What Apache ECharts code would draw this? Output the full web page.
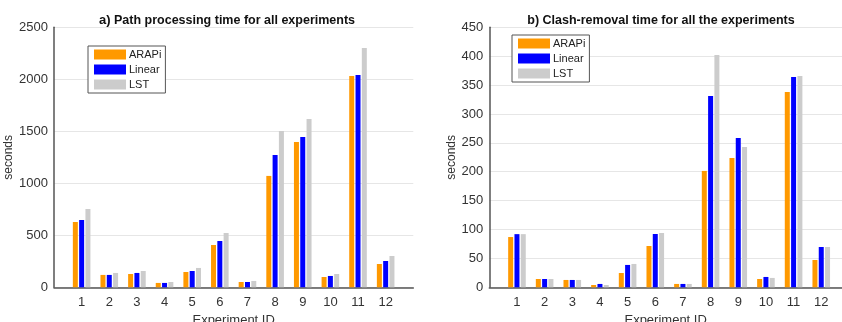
<!DOCTYPE html>
<html>
<head>
<meta charset="utf-8">
<script src="https://cdn.jsdelivr.net/npm/echarts@6/dist/echarts.min.js"></script>
<style>
  html, body { margin: 0; padding: 0; background: #fff; }
  #chart { width: 842px; height: 322px; }
</style>
</head>
<body>
<div id="chart"></div>
<script>
// Experiment IDs shown on both x axes
const experimentIds = [1, 2, 3, 4, 5, 6, 7, 8, 9, 10, 11, 12];
const seriesNames = ['ARAPi', 'Linear', 'LST'];

// a) Path processing time (seconds)
const pathArapi  = [628, 119, 128, 42, 147, 407, 51, 1071, 1397, 99, 2032, 224];
const pathLinear = [647, 119, 138, 42, 157, 445, 51, 1272, 1445, 109, 2041, 253];
const pathLst    = [753, 138, 157, 51, 186, 522, 61, 1503, 1618, 128, 2301, 301];

// b) Clash-removal time (seconds)
const clashArapi  = [87, 14.4, 12.7, 4, 24.8, 71.5, 5.8, 201.4, 223.8, 14.4, 338, 47.3];
const clashLinear = [92, 14.4, 12.7, 5.8, 38.7, 92.3, 5.8, 331, 258.4, 17.9, 364, 69.8];
const clashLst    = [92, 14.4, 12.7, 4, 40.4, 94, 5.8, 402, 242.9, 16.2, 365.7, 69.8];

// y-axis tick settings
const pathTicks = { max: 2500, interval: 500 };
const clashTicks = { max: 450, interval: 50 };

const colors = ['#FF9900', '#0000FF', '#CCCCCC'];
const FONT = 'Arial, "Liberation Sans", sans-serif';

function pairs(values) {
  return experimentIds.map((id, i) => [id, values[i]]);
}

function xAxisFor(gridIndex, max) {
  return {
    gridIndex: gridIndex,
    type: 'value',
    min: 0,
    max: max,
    interval: 1,
    name: 'Experiment ID',
    nameLocation: 'middle',
    nameGap: 23,
    nameTextStyle: { fontFamily: FONT, fontSize: 13, color: '#333' },
    axisLine: { show: true, onZero: false, lineStyle: { color: '#555', width: 1.5 } },
    axisTick: { show: false },
    splitLine: { show: false },
    axisLabel: {
      fontFamily: FONT, fontSize: 13, color: '#333', margin: 9,
      formatter: v => (v >= 1 && v <= 12 && Number.isInteger(v)) ? String(v) : ''
    }
  };
}

function yAxisFor(gridIndex, ticks, nameGap) {
  return {
    gridIndex: gridIndex,
    type: 'value',
    min: 0,
    max: ticks.max,
    interval: ticks.interval,
    name: 'seconds',
    nameLocation: 'middle',
    nameGap: nameGap,
    nameTextStyle: { fontFamily: FONT, fontSize: 12, color: '#333' },
    axisLine: { show: true, lineStyle: { color: '#555', width: 1.5 } },
    axisTick: { show: false },
    axisLabel: {
      fontFamily: FONT, fontSize: 13, color: '#333', margin: 6,
      formatter: v => String(v)
    },
    splitLine: { show: true, lineStyle: { color: '#e6e6e6', width: 1 } }
  };
}

function barSeries(name, values, axisIndex, color) {
  return {
    name: name,
    type: 'bar',
    xAxisIndex: axisIndex,
    yAxisIndex: axisIndex,
    data: pairs(values),
    barWidth: 5,
    barGap: '26%',
    itemStyle: { color: color },
    emphasis: { disabled: true },
    animation: false
  };
}

function legendAt(left, top) {
  return {
    left: left,
    top: top,
    orient: 'vertical',
    data: seriesNames,
    itemWidth: 32,
    itemHeight: 10,
    itemGap: 4,
    padding: [3, 4, 3, 6],
    borderColor: '#555',
    borderWidth: 1,
    backgroundColor: '#fff',
    icon: 'rect',
    textStyle: { fontFamily: FONT, fontSize: 11, color: '#222', padding: [0, 0, 0, -2] },
    selectedMode: false
  };
}

const titleRich = {
  a: { fontFamily: FONT, fontSize: 13, fontWeight: 'bold', color: '#111' },
  t: { fontFamily: FONT, fontSize: 12.5, fontWeight: 'bold', color: '#111' }
};

const chart = echarts.init(document.getElementById('chart'), null, { renderer: 'canvas' });
chart.setOption({
  backgroundColor: '#fff',
  animation: false,
  color: colors,
  title: [
    {
      text: '{a|a)}{t| Path processing time for all experiments}',
      left: 222, top: 9, textAlign: 'center',
      textStyle: { rich: titleRich }
    },
    {
      text: '{t|b) Clash-removal time for all the experiments}',
      left: 656, top: 9, textAlign: 'center',
      textStyle: { rich: titleRich }
    }
  ],
  legend: [legendAt(88, 46), legendAt(512, 35)],
  grid: [
    { left: 54, right: 428.7, top: 27.3, bottom: 34.7, containLabel: false, outerBoundsMode: 'none' },
    { left: 489.3, right: 0, top: 27.3, bottom: 34.7, containLabel: false, outerBoundsMode: 'none' }
  ],
  xAxis: [xAxisFor(0, 13), xAxisFor(1, 12.75)],
  yAxis: [yAxisFor(0, pathTicks, 38), yAxisFor(1, clashTicks, 30)],
  series: [
    barSeries(seriesNames[0], pathArapi, 0, colors[0]),
    barSeries(seriesNames[1], pathLinear, 0, colors[1]),
    barSeries(seriesNames[2], pathLst, 0, colors[2]),
    barSeries(seriesNames[0], clashArapi, 1, colors[0]),
    barSeries(seriesNames[1], clashLinear, 1, colors[1]),
    barSeries(seriesNames[2], clashLst, 1, colors[2])
  ]
});
</script>
</body>
</html>
